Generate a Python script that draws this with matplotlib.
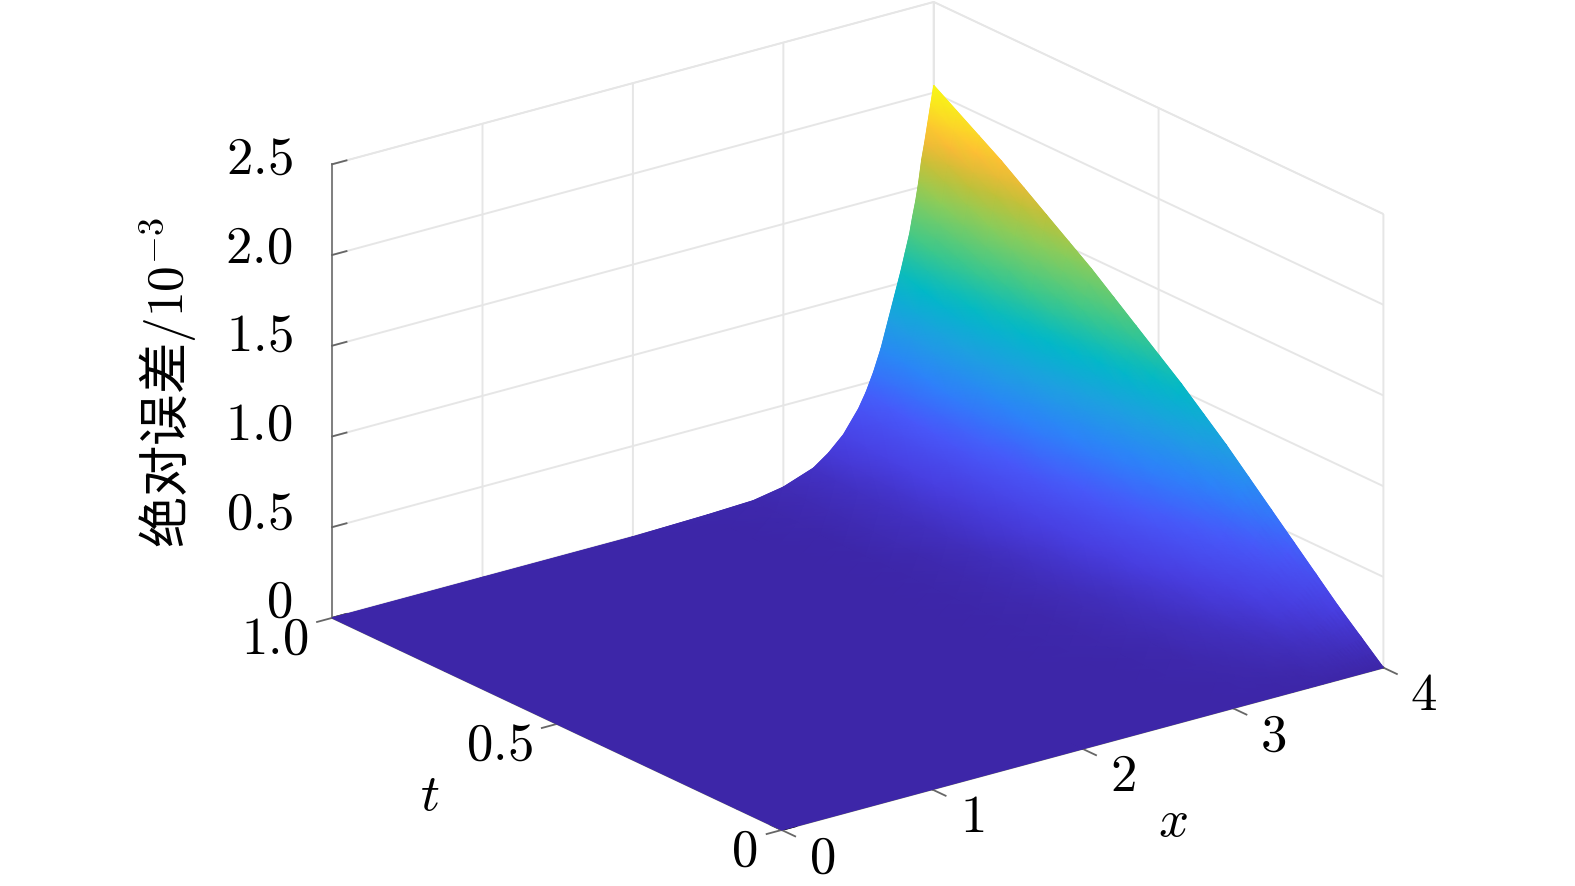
import numpy as np
import matplotlib
matplotlib.use('Agg')
import matplotlib.pyplot as plt
from matplotlib.colors import LinearSegmentedColormap, Normalize
from matplotlib.collections import QuadMesh
from mpl_toolkits.mplot3d import proj3d

plt.rcParams['font.family'] = ['Noto Sans CJK SC', 'DejaVu Sans']
plt.rcParams['mathtext.fontset'] = 'cm'

x_values = [0, 1, 2, 2.5, 2.8, 3.0, 3.2, 3.3, 3.4, 3.5, 3.55, 3.6, 3.65, 3.7, 3.74, 3.78,
            3.81, 3.84, 3.86, 3.88, 3.9, 3.92, 3.94, 3.96, 3.98, 4.0]
t_values = [0, .05, .1, .15, .2, .25, .3, .35, .4, .45, .5, .55, .6, .65, .7, .75, .8, .85, .9, .95, 1]
# absolute error / 1e-3, one row per x value, one column per t value
error_rows = [
 [0]*21,
 [0]*21,
 [0]*21,
 [0,0,0,0,0,0,0,0,0,0,0,0,0,0,0,0,0,0,0,0,.01],
 [0,0,0,0,0,0,.01,.01,.01,.01,.01,.01,.01,.01,.01,.01,.01,.01,.02,.02,.02],
 [0,0,0,.01,.01,.01,.02,.02,.02,.02,.03,.03,.03,.03,.03,.04,.04,.04,.04,.04,.05],
 [0,.01,.01,.02,.02,.03,.04,.04,.05,.05,.06,.06,.07,.07,.08,.08,.09,.09,.10,.10,.11],
 [0,.01,.02,.03,.04,.05,.06,.07,.07,.08,.09,.10,.11,.12,.12,.13,.14,.14,.15,.16,.17],
 [0,.01,.03,.04,.06,.07,.08,.10,.11,.12,.14,.15,.16,.17,.18,.19,.21,.22,.23,.24,.25],
 [0,.02,.04,.06,.08,.10,.13,.15,.17,.19,.21,.22,.24,.26,.28,.29,.31,.32,.34,.35,.37],
 [0,.02,.05,.07,.10,.13,.15,.18,.20,.23,.25,.27,.29,.32,.34,.36,.38,.40,.41,.43,.45],
 [0,.03,.06,.09,.12,.16,.19,.22,.25,.28,.31,.33,.36,.39,.41,.44,.46,.49,.51,.53,.55],
 [0,.04,.07,.11,.15,.19,.23,.27,.31,.34,.38,.41,.44,.48,.50,.53,.56,.59,.62,.65,.67],
 [0,.04,.09,.14,.18,.23,.28,.33,.37,.42,.46,.50,.54,.58,.61,.65,.68,.72,.75,.78,.82],
 [0,.05,.10,.16,.21,.27,.32,.38,.43,.48,.52,.57,.62,.66,.70,.75,.79,.83,.86,.90,.94],
 [0,.06,.11,.18,.24,.30,.36,.43,.48,.54,.59,.64,.70,.75,.80,.84,.89,.94,.98,1.02,1.06],
 [0,.06,.13,.19,.26,.33,.40,.47,.53,.59,.65,.71,.76,.82,.87,.92,.97,1.03,1.07,1.12,1.16],
 [0,.07,.14,.21,.29,.36,.43,.51,.58,.64,.71,.77,.83,.89,.95,1.00,1.06,1.12,1.17,1.22,1.26],
 [0,.07,.15,.22,.30,.38,.46,.54,.61,.69,.75,.82,.88,.95,1.01,1.07,1.13,1.19,1.24,1.29,1.35],
 [0,.08,.15,.24,.32,.41,.49,.57,.65,.73,.80,.87,.94,1.01,1.07,1.13,1.20,1.26,1.32,1.37,1.43],
 [0,.08,.17,.26,.35,.44,.53,.62,.70,.78,.86,.93,1.01,1.08,1.15,1.22,1.28,1.35,1.41,1.47,1.53],
 [0,.09,.18,.28,.37,.47,.57,.66,.75,.84,.92,1.00,1.09,1.17,1.24,1.31,1.39,1.46,1.52,1.59,1.65],
 [0,.09,.19,.29,.39,.50,.60,.70,.80,.89,.97,1.06,1.15,1.23,1.31,1.39,1.46,1.54,1.61,1.68,1.74],
 [0,.10,.20,.31,.41,.52,.63,.74,.84,.94,1.03,1.12,1.21,1.30,1.38,1.46,1.54,1.62,1.69,1.76,1.84],
 [0,.10,.21,.32,.44,.55,.67,.78,.88,.99,1.08,1.18,1.27,1.37,1.45,1.54,1.62,1.71,1.79,1.86,1.94],
 [0,.11,.22,.34,.46,.58,.70,.82,.93,1.04,1.14,1.24,1.34,1.44,1.53,1.62,1.71,1.80,1.88,1.96,2.04],
]
x_ticks = [0, 1, 2, 3, 4]
t_ticks = [0, 0.5, 1.0]
z_ticks = [0, 0.5, 1.0, 1.5, 2.0, 2.5]
x_ticklabels = ['$0$', '$1$', '$2$', '$3$', '$4$']
t_ticklabels = ['$0$', '$0.5$', '$1.0$']
z_ticklabels = ['$0$', '$0.5$', '$1.0$', '$1.5$', '$2.0$', '$2.5$']
cmap_stops = [0, .1, .2, .3, .4, .5, .6, .72, .8, .87, .94, 1]
cmap_colors = [(61, 38, 168), (72, 62, 225), (72, 88, 250), (45, 130, 250), (30, 160, 225),
               (0, 185, 200), (60, 200, 140), (140, 205, 90), (195, 192, 55), (255, 185, 55),
               (250, 225, 35), (248, 248, 20)]

cmap = LinearSegmentedColormap.from_list(
    'surf', [(s, tuple(c / 255 for c in rgb)) for s, rgb in zip(cmap_stops, cmap_colors)], N=256)
norm = Normalize(0, 2.04)

fig = plt.figure(figsize=(15.75, 8.86), dpi=100)
ax = fig.add_axes([58 / 1568, 15 / 882, 1, 1], projection='3d', proj_type='ortho')
ax.view_init(elev=20.9, azim=-127.1)
ax.set_box_aspect((752, 743, 484), zoom=1.278)
ax.set_xlim(0, 4, view_margin=0)
ax.set_ylim(0, 1, view_margin=0)
ax.set_zlim(0, 2.5, view_margin=0)

X, T = np.meshgrid(x_values, t_values, indexing='ij')
Z = np.array(error_rows)
surf = ax.plot_surface(X, T, Z, cmap=cmap, norm=norm, rstride=1, cstride=1,
                       linewidth=0.5, antialiased=True, shade=False)
surf.set_edgecolor('face')
surf.set_clip_on(False)

# smooth colour between the table's grid points (renderer Gouraud shading, like MATLAB "shading interp")
proj = ax.get_proj()
px, py, _ = proj3d.proj_transform(X.ravel(), T.ravel(), Z.ravel(), proj)
coords = np.stack([px, py], axis=-1).reshape(X.shape + (2,))
mesh = QuadMesh(coords, shading='gouraud', antialiased=False, cmap=cmap, norm=norm,
                transform=ax.transData, zorder=2)
mesh.set_array(Z.ravel())
fig.add_artist(mesh)

for axis in (ax.xaxis, ax.yaxis, ax.zaxis):
    axis.set_pane_color((1, 1, 1, 1))
    axis.pane.set_edgecolor('#e0e0e0')
    axis.line.set_color('#777777')
    axis.line.set_linewidth(1.3)
    axis._axinfo['grid'].update(color='#e6e6e6', linewidth=1.4)
    axis._axinfo['tick'].update(inward_factor=0.0, outward_factor=0.3, linewidth={True: 1.3, False: 1.3})

ax.set_xticks(x_ticks)
ax.set_yticks(t_ticks)
ax.set_zticks(z_ticks)
ax.tick_params(axis='z', color='#666666')
for axis in (ax.xaxis, ax.yaxis, ax.zaxis):
    for lab in axis.get_ticklabels():
        lab.set_visible(False)
    axis.label.set_visible(False)
    axis.get_offset_text().set_visible(False)

for v in x_ticks:
    tick, = ax.plot([v, v], [0, -0.03], [0, 0], color='#666666', lw=1.3, zorder=5)
    tick.set_clip_on(False)
for v in t_ticks:
    tick, = ax.plot([0, -0.1], [v, v], [0, 0], color='#666666', lw=1.3, zorder=5)
    tick.set_clip_on(False)


def label3d(x, t, z, s, **kw):
    sx, sy, _ = proj3d.proj_transform(x, t, z, proj)
    ax.text2D(sx, sy, s, transform=ax.transData, color='black', va='center', clip_on=False, **kw)


FS = 38
for v, lab in zip(x_ticks, x_ticklabels):
    label3d(v - 0.0737, -0.114, 0, lab, fontsize=FS, ha='center')
for v, lab in zip(t_ticks, t_ticklabels):
    label3d(-0.283, v - 0.041, 0, lab, fontsize=FS, ha='right')
for v, lab in zip(z_ticks, z_ticklabels):
    label3d(-0.156, 1.036, v + (5 + 4 * (2.5 - v)) / 181, lab, fontsize=FS, ha='right')
label3d(1.741, -0.2875, 0, '$x$', fontsize=FS, ha='center')
label3d(-1.169, 0.392, 0, '$t$', fontsize=FS, ha='center')
fig.text(0.107, 0.569, '绝对误差$/10^{-3}$', rotation=90, fontsize=37, ha='center', va='center', color='black')
fig.savefig('out.png', dpi=100)
